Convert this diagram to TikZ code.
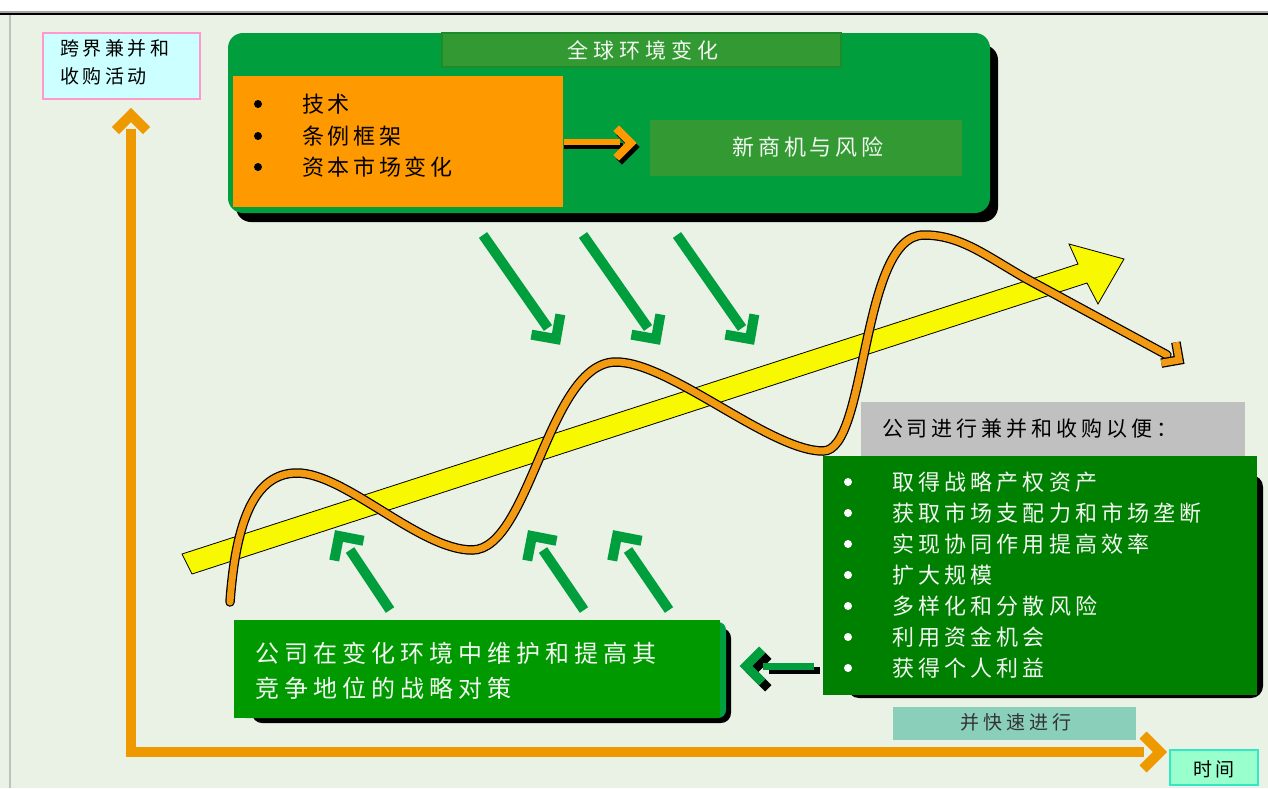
\documentclass[tikz,border=0pt]{standalone}
\usepackage{fontspec}
\setmainfont{Liberation Sans}
\newfontfamily\cjk{Noto Sans CJK SC}
\newcommand\cjt[2]{\fontsize{#1}{#1}\selectfont\cjk\addfontfeature{LetterSpace=#2}}
\newcommand\chev[4]{\draw[#1] #2 ++(#3+135:#4) -- ++(#3-45:#4) -- ++(#3-135:#4);}
\definecolor{bg}{HTML}{EAF2E6}
\definecolor{gA}{HTML}{009E3C}
\definecolor{gTitle}{HTML}{339933}
\definecolor{gTitleB}{HTML}{1E8C2A}
\definecolor{orBox}{HTML}{FF9900}
\definecolor{axisOr}{HTML}{EE9900}
\definecolor{waveOr}{HTML}{F29A12}
\definecolor{gList}{HTML}{008000}
\definecolor{gBL}{HTML}{009900}
\definecolor{gBLs}{HTML}{00A040}
\definecolor{grayB}{HTML}{C0C0C0}
\definecolor{yel}{HTML}{F8F800}
\definecolor{tealB}{HTML}{8ACFBA}
\definecolor{timeF}{HTML}{99FFCC}
\definecolor{timeB}{HTML}{33E6C4}
\definecolor{kjF}{HTML}{CCFFFF}
\definecolor{kjB}{HTML}{FF99CC}
\definecolor{txtW}{HTML}{F2F8F2}
\begin{document}
\begin{tikzpicture}[x=1pt,y=-1pt,
  every node/.style={inner sep=0pt,outer sep=0pt},
  panel/.style={anchor=north west,rectangle},
  garrow/.style={draw=gA,line width=10pt},
  ghead/.style={draw=gA,line width=10pt,line join=miter},
  dot/.style={circle,minimum size=8pt,fill=#1},
  wtxt/.style={text=txtW}]
\useasboundingbox (0,0) rectangle (1268,788);
% background and frame
\fill[bg] (0,0) rectangle (1268,788);
\fill[white] (0,0) rectangle (1268,11);
\fill[gray!70] (0,11) rectangle (1268,13);
\fill[black] (0,13) rectangle (1268,14.6);
\fill[grayB] (9.3,14.6) rectangle (10.8,788);

% axes
\coordinate (axT) at (131,129);
\coordinate (ax0) at (131,752);
\coordinate (axR) at (1144,752);
\draw[axisOr,line width=10pt] (axT) -- (ax0) -- (axR);
\chev{axisOr,line width=10pt}{(131,115)}{-90}{22}
\chev{axisOr,line width=10pt}{(1160,752)}{0}{24}

% top-left label
\node[panel,fill=kjF,draw=kjB,line width=1.5pt,minimum width=157pt,minimum height=66pt] (kj) at (43,33) {};
\node[anchor=west,font={\cjt{19}{19}}] (kj1) at (60,48) {跨界兼并和};
\node[anchor=west,font={\cjt{19}{19}}] (kj2) at (60,76) {收购活动};

% top green panel
\node[panel,fill=black,rounded corners=15pt,minimum width=762pt,minimum height=177pt] (topS) at (236,45) {};
\node[panel,fill=gA,rounded corners=15pt,minimum width=762pt,minimum height=180pt] (topG) at (228,33) {};
\node[panel,fill=gTitle,draw=gTitleB,line width=1.5pt,minimum width=399pt,minimum height=34pt] (title) at (442,33) {};
\node[wtxt,font={\cjt{21}{24}}] (titleT) at (643,50) {全球环境变化};
\node[panel,fill=orBox,minimum width=330pt,minimum height=131pt] (orB) at (233,76) {};
\node[dot=black] (ob1) at (258,104) {};
\node[dot=black] (ob2) at (258,136) {};
\node[dot=black] (ob3) at (258,167) {};
\node[anchor=west,font={\cjt{22}{17}}] (ot1) at (302,104) {技术};
\node[anchor=west,font={\cjt{22}{17}}] (ot2) at (302,136) {条例框架};
\node[anchor=west,font={\cjt{22}{17}}] (ot3) at (302,167) {资本市场变化};
\node[panel,fill=gTitle,minimum width=312pt,minimum height=56pt] (nb) at (650,120) {};
\node[wtxt,font={\cjt{22}{18}}] (nbT) at (808,147) {新商机与风险};
% orange arrow to new business box
\draw[black,line width=6pt] (564,146) -- (623,146);
\chev{black,line width=8pt}{(634,147)}{0}{21}
\draw[orBox,line width=6pt] (564,142) -- (620,142);
\chev{orBox,line width=8pt}{(631,143)}{0}{21}

% down arrows
\coordinate (d1a) at (483,235); \coordinate (d1b) at (548,328);
\coordinate (d2a) at (583,235); \coordinate (d2b) at (648,328);
\coordinate (d3a) at (677,235); \coordinate (d3b) at (742,328);
\draw[garrow] (d1a) -- (d1b);
\draw[garrow] (d2a) -- (d2b);
\draw[garrow] (d3a) -- (d3b);
\chev{ghead}{(556,339)}{55}{25}
\chev{ghead}{(656,339)}{55}{25}
\chev{ghead}{(750,339)}{55}{25}

% yellow trend arrow
\draw[fill=yel,draw=black,line width=0.8pt] (182,554) -- (1078,264) -- (1069,244) -- (1124,259)
  -- (1098,304) -- (1087,283) -- (192,574) -- cycle;

% wave
\draw[preaction={draw=black,line width=9.5pt,line cap=round},draw=waveOr,line width=7pt,line cap=round]
 (230,602) .. controls (236,520) and (255,473) .. (297,473)
 .. controls (345,473) and (420,550) .. (472,550)
 .. controls (530,550) and (548,362) .. (616,362)
 .. controls (670,362) and (770,451) .. (823,451)
 .. controls (868,451) and (860,235) .. (924,235)
 .. controls (960,235) and (985,255) .. (1025,278)
 -- (1167,355);
\chev{black,line width=9.5pt}{(1179,360)}{35}{18}
\chev{waveOr,line width=7pt}{(1179,360)}{35}{18}

% up arrows
\coordinate (u1a) at (390,610); \coordinate (u1b) at (350,550);
\coordinate (u2a) at (584,610); \coordinate (u2b) at (543,550);
\coordinate (u3a) at (669,610); \coordinate (u3b) at (628,550);
\draw[garrow] (u1a) -- (u1b);
\draw[garrow] (u2a) -- (u2b);
\draw[garrow] (u3a) -- (u3b);
\chev{ghead}{(339,536)}{236}{25}
\chev{ghead}{(532,536)}{236}{25}
\chev{ghead}{(617,536)}{236}{25}

% gray heading
\node[panel,fill=grayB,minimum width=384pt,minimum height=54pt] (gh) at (861,402) {};
\node[anchor=west,font={\cjt{21}{19}}] (ghT) at (882,429) {公司进行兼并和收购以便：};

% dark green list
\node[panel,fill=black,rounded corners=12pt,minimum width=416pt,minimum height=223pt] (lS) at (847,475) {};
\node[panel,fill=gList,minimum width=434pt,minimum height=239pt] (lB) at (823,456) {};
\foreach \i/\t in {0/取得战略产权资产,1/获取市场支配力和市场垄断,2/实现协同作用提高效率,3/扩大规模,4/多样化和分散风险,5/利用资金机会,6/获得个人利益}{
  \node[dot=white] (lb\i) at (848,482+31*\i) {};
  \node[wtxt,anchor=west,font={\cjt{22}{19}}] (lt\i) at (892,482+31*\i) {\t};
}

% bottom-left box
\node[panel,fill=black,rounded corners=10pt,minimum width=479pt,minimum height=95pt] (blS) at (252,628) {};
\node[panel,fill=gBLs,rounded corners=8pt,minimum width=488pt,minimum height=96pt] (blT) at (238,622) {};
\node[panel,fill=gBL,minimum width=486pt,minimum height=98pt] (bl) at (234,620) {};
\node[wtxt,anchor=west,font={\cjt{24}{21}}] (bl1) at (255,653) {公司在变化环境中维护和提高其};
\node[wtxt,anchor=west,font={\cjt{24}{21}}] (bl2) at (255,688) {竞争地位的战略对策};

% left arrow between boxes
\draw[black,line width=7pt] (769,670) -- (820,670);
\chev{black,line width=9pt}{(752,672)}{180}{23}
\draw[gA,line width=7pt] (763,666) -- (814,666);
\chev{gA,line width=9pt}{(746,666)}{180}{23}

% fast label
\node[panel,fill=tealB,minimum width=243pt,minimum height=33pt] (fast) at (893,707) {};
\node[text=black!80,font={\cjt{19}{21}}] (fastT) at (1016,722) {并快速进行};

% time label
\node[panel,fill=timeF,draw=timeB,line width=2pt,minimum width=88pt,minimum height=35pt] (tm) at (1170,750) {};
\node[font={\cjt{19}{21}}] (tmT) at (1214,769) {时间};
\end{tikzpicture}
\end{document}
